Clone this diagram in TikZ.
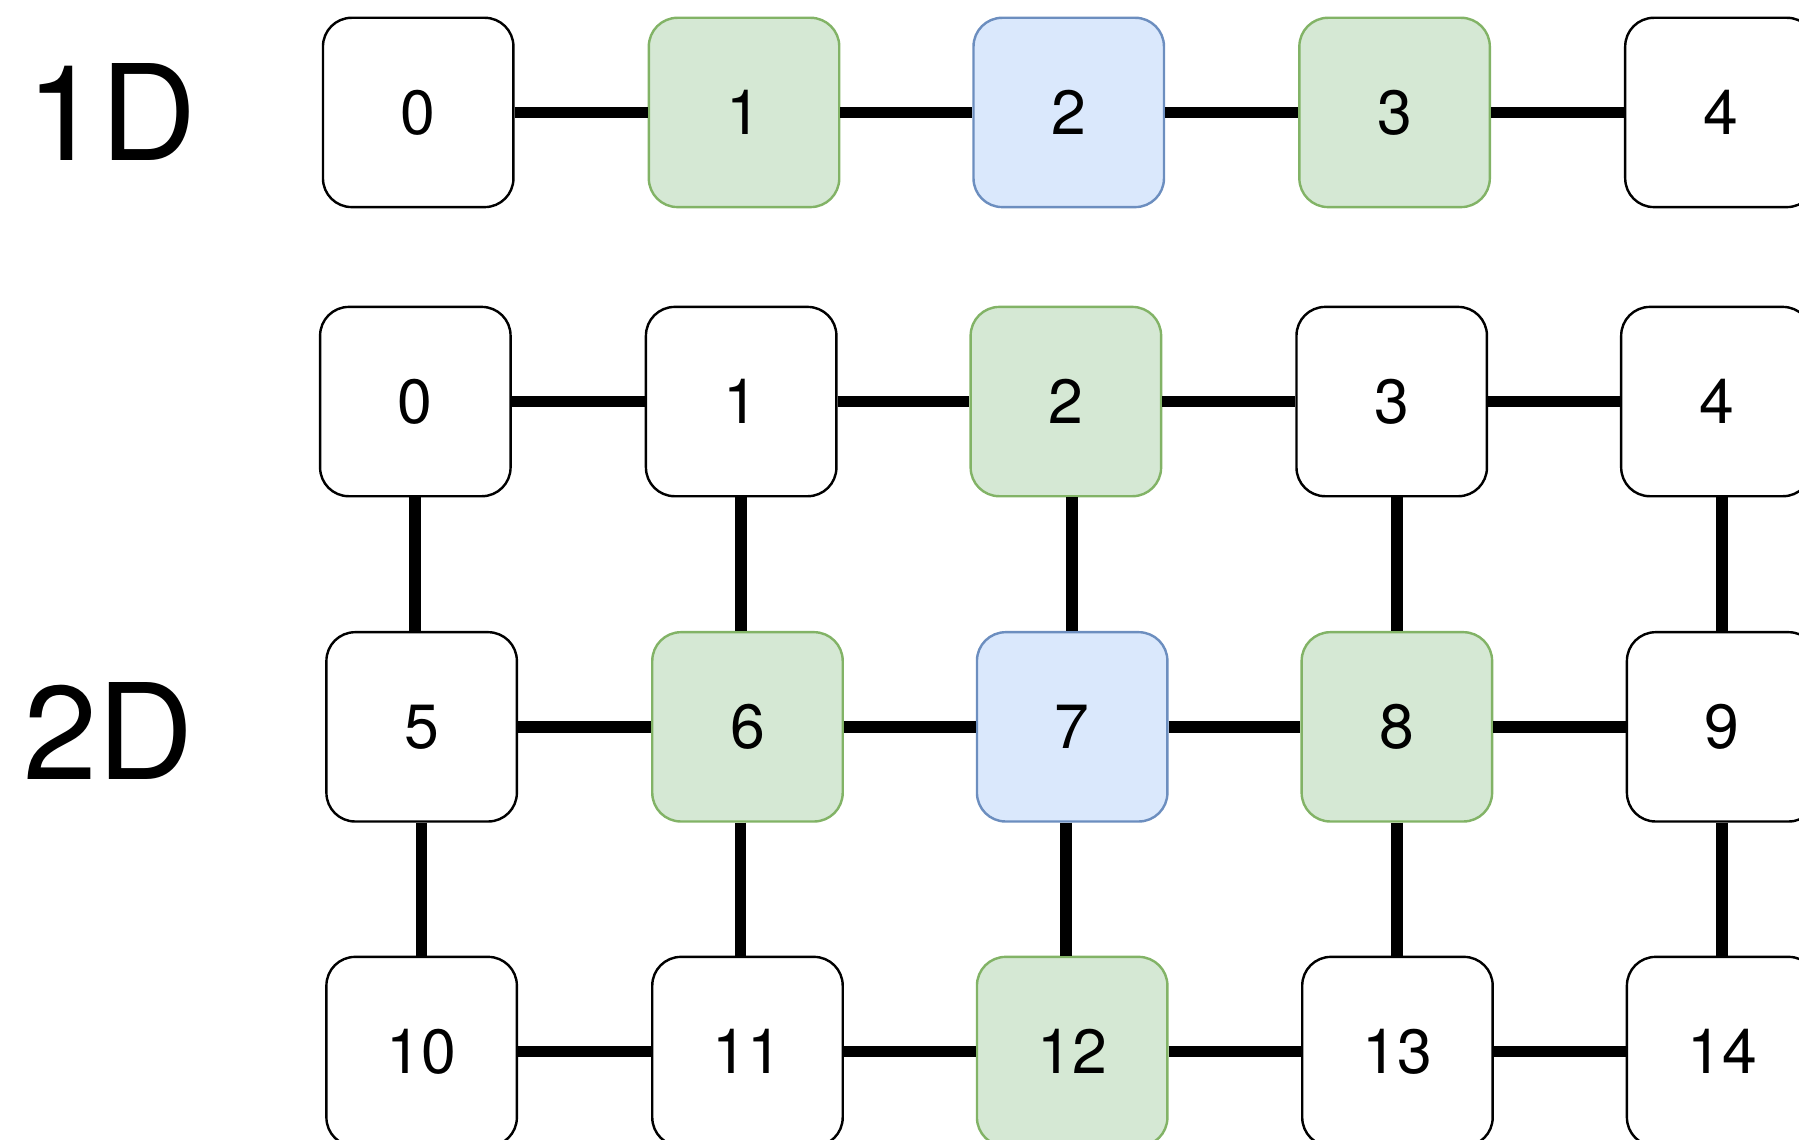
\documentclass[tikz,border=0pt]{standalone}
\usepackage{fontspec}
\setmainfont{TeX Gyre Heros}
\definecolor{nbgreen}{HTML}{D5E8D4}
\definecolor{nbgreenline}{HTML}{82B366}
\definecolor{srcblue}{HTML}{DAE8FC}
\definecolor{srcblueline}{HTML}{6C8EBF}
\begin{document}
\begin{tikzpicture}[
  cell/.style={rectangle, rounded corners=0.25cm, draw, line width=0.6pt,
    minimum width=1.66cm, minimum height=1.65cm, font=\fontsize{15.5}{18}\selectfont},
  neighbour/.style={cell, fill=nbgreen, draw=nbgreenline},
  source/.style={cell, fill=srcblue, draw=srcblueline},
  dimlabel/.style={font=\fontsize{33}{36}\selectfont},
  link/.style={draw, line width=2.9pt}
]
\useasboundingbox (0,0) rectangle (15.68,-9.93);

% 1D
\node[dimlabel] (lab1) at (0.97,-0.98) {1D};
\node[cell]      (a0) at (3.645,-0.98) {0};
\node[neighbour] (a1) at (6.485,-0.98) {1};
\node[source]    (a2) at (9.315,-0.98) {2};
\node[neighbour] (a3) at (12.155,-0.98) {3};
\node[cell]      (a4) at (14.995,-0.98) {4};
\draw[link] (a0) -- (a1);
\draw[link] (a1) -- (a2);
\draw[link] (a2) -- (a3);
\draw[link] (a3) -- (a4);

% 2D
\node[dimlabel] (lab2) at (0.95,-6.37) {2D};
\node[cell]      (b0) at (3.62,-3.50) {0};
\node[cell]      (b1) at (6.46,-3.50) {1};
\node[neighbour] (b2) at (9.29,-3.50) {2};
\node[cell]      (b3) at (12.13,-3.50) {3};
\node[cell]      (b4) at (14.96,-3.50) {4};
\node[cell]      (b5) at (3.675,-6.335) {5};
\node[neighbour] (b6) at (6.515,-6.335) {6};
\node[source]    (b7) at (9.345,-6.335) {7};
\node[neighbour] (b8) at (12.175,-6.335) {8};
\node[cell]      (b9) at (15.01,-6.335) {9};
\node[cell]      (b10) at (3.675,-9.165) {10};
\node[cell]      (b11) at (6.515,-9.165) {11};
\node[neighbour] (b12) at (9.345,-9.165) {12};
\node[cell]      (b13) at (12.18,-9.165) {13};
\node[cell]      (b14) at (15.01,-9.165) {14};

\draw[link] (b0) -- (b1);
\draw[link] (b1) -- (b2);
\draw[link] (b2) -- (b3);
\draw[link] (b3) -- (b4);
\draw[link] (b5) -- (b6);
\draw[link] (b6) -- (b7);
\draw[link] (b7) -- (b8);
\draw[link] (b8) -- (b9);
\draw[link] (b10) -- (b11);
\draw[link] (b11) -- (b12);
\draw[link] (b12) -- (b13);
\draw[link] (b13) -- (b14);

\draw[link] (b0.south) -- (b0.south |- b5.north);
\draw[link] (b1.south) -- (b1.south |- b6.north);
\draw[link] (b7.north |- b2.south) -- (b7.north);
\draw[link] (b8.north |- b3.south) -- (b8.north);
\draw[link] (b9.north |- b4.south) -- (b9.north);
\draw[link] (b5.south) -- (b10.north);
\draw[link] ([xshift=-0.06cm]b6.south) -- ([xshift=-0.06cm]b11.north);
\draw[link] ([xshift=-0.055cm]b7.south) -- ([xshift=-0.055cm]b12.north);
\draw[link] (b8.south) -- (b8.south |- b13.north);
\draw[link] (b9.south) -- (b14.north);
\end{tikzpicture}
\end{document}
